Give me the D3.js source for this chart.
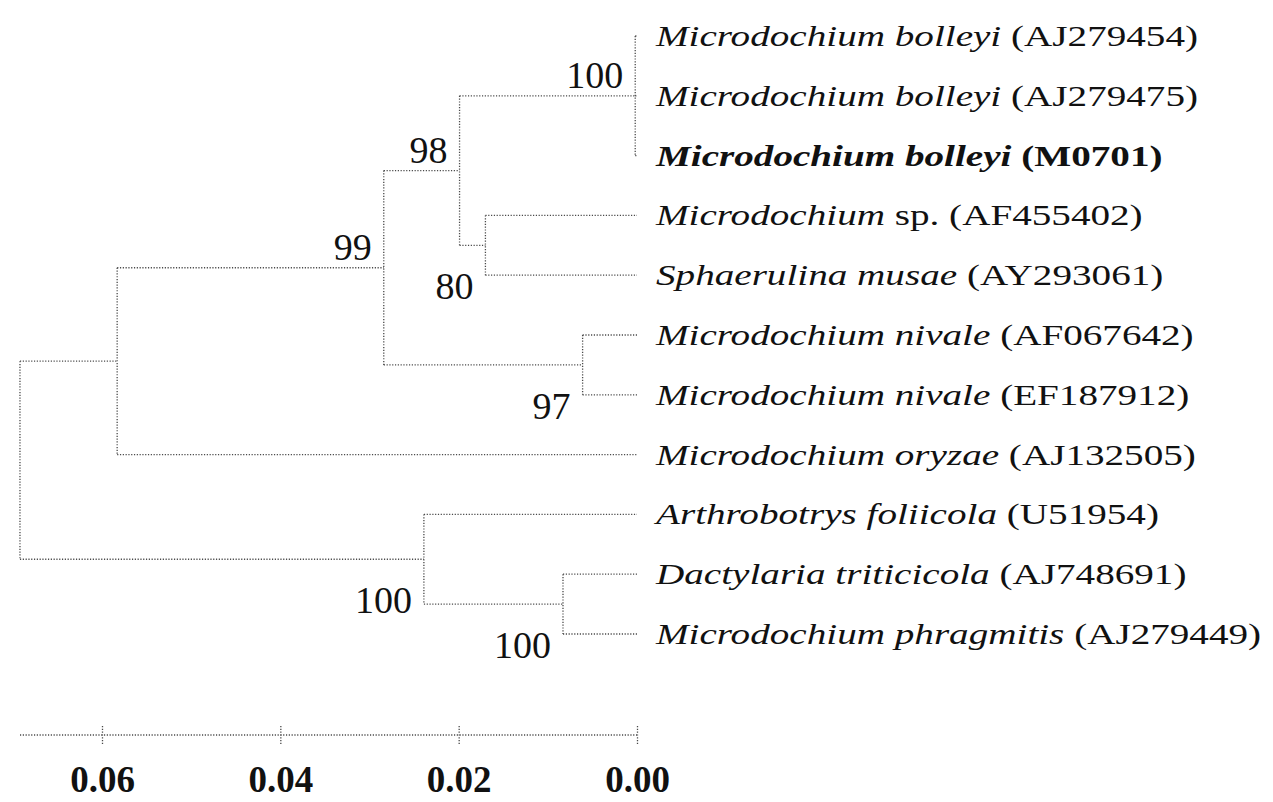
<!DOCTYPE html>
<html>
<head>
<meta charset="utf-8">
<script src="https://cdn.jsdelivr.net/npm/d3@7"></script>
<style>
  html, body { margin: 0; padding: 0; background: #fff; }
  svg { display: block; }
</style>
</head>
<body>
<svg id="chart" width="1273" height="802"></svg>
<script>
// ---------------- data ----------------
const leafIds = ["L1","L2","L3","L4","L5","L6","L7","L8","L9","L10","L11"];
const leafItalic = [
  "Microdochium bolleyi", "Microdochium bolleyi", "Microdochium bolleyi",
  "Microdochium", "Sphaerulina musae", "Microdochium nivale", "Microdochium nivale",
  "Microdochium oryzae", "Arthrobotrys foliicola", "Dactylaria triticicola",
  "Microdochium phragmitis"
];
const leafRoman = [
  "(AJ279454)", "(AJ279475)", "(M0701)", "sp. (AF455402)", "(AY293061)",
  "(AF067642)", "(EF187912)", "(AJ132505)", "(U51954)", "(AJ748691)", "(AJ279449)"
];
const boldLeaves = ["L3"];

const nodeIds = ["root","A","B","C","D","E","F","G","H"];
const nodeHeights = [0.0692, 0.0583, 0.0284, 0.0199, 0.0002, 0.0170, 0.0061, 0.0239, 0.0083];
const nodeChildren = [
  ["A","G"], ["B","L8"], ["C","F"], ["D","E"], ["L1","L2","L3"],
  ["L4","L5"], ["L6","L7"], ["L9","H"], ["L10","L11"]
];
const bootstrap = [null, null, 99, 98, 100, 80, 97, 100, 100];

const scaleTicks = [0.06, 0.04, 0.02, 0.00];

// ---------------- layout ----------------
const svg = d3.select("#chart");
const x = d3.scaleLinear().domain([0, 0.06]).range([637, 102]);
const y = d3.scalePoint().domain(leafIds).range([36, 634]);

const info = {};
leafIds.forEach(id => { info[id] = { id, height: 0, y: y(id), leaf: true }; });
nodeIds.forEach((id, i) => { info[id] = { id, height: nodeHeights[i], children: nodeChildren[i], boot: bootstrap[i], leaf: false }; });
function posY(id) {
  const n = info[id];
  if (n.leaf) return n.y;
  const ys = n.children.map(posY);
  n.y = (d3.min(ys) + d3.max(ys)) / 2;
  n.minY = d3.min(ys); n.maxY = d3.max(ys);
  return n.y;
}
posY("root");

const lineColor = "#4a4a4a";
const dash = "1.2 1.6";
const g = svg.append("g")
  .attr("fill", "none")
  .attr("stroke", lineColor)
  .attr("stroke-width", 1.3)
  .attr("stroke-dasharray", dash);

const internals = nodeIds.map(id => info[id]);
// vertical connectors
g.selectAll("line.v").data(internals).join("line")
  .attr("class", "v")
  .attr("x1", d => x(d.height)).attr("x2", d => x(d.height))
  .attr("y1", d => d.minY).attr("y2", d => d.maxY);
// horizontal branches
const edges = [];
internals.forEach(p => p.children.forEach(c => edges.push({ p, c: info[c] })));
g.selectAll("line.h").data(edges).join("line")
  .attr("class", "h")
  .attr("x1", d => x(d.p.height)).attr("x2", d => x(d.c.height))
  .attr("y1", d => d.c.y).attr("y2", d => d.c.y);

// leaf labels
const labels = svg.append("g")
  .attr("font-family", "'Liberation Serif', 'Times New Roman', serif")
  .attr("font-size", 29)
  .attr("fill", "#111");
const lt = labels.selectAll("text").data(leafIds).join("text")
  .attr("transform", d => `translate(656,${y(d) + 10}) scale(1.35,1)`)
  .attr("font-weight", d => boldLeaves.includes(d) ? "bold" : "normal");
lt.append("tspan").attr("font-style", "italic").text((d, i) => leafItalic[i]);
lt.append("tspan").text((d, i) => " " + leafRoman[i]);

// bootstrap values
const below = new Set(["E","F","G","H"]);
svg.append("g")
  .attr("font-family", "'Liberation Serif', 'Times New Roman', serif")
  .attr("font-size", 38)
  .attr("fill", "#111")
  .attr("text-anchor", "end")
  .selectAll("text").data(internals.filter(d => d.boot != null)).join("text")
  .attr("x", d => x(d.height) - 12)
  .attr("y", d => below.has(d.id) ? d.y + 54 : d.y - 8)
  .text(d => d.boot);

// scale axis
const axisY = 735;
const axis = d3.axisBottom(x)
  .tickValues(scaleTicks)
  .tickFormat(d3.format(".2f"))
  .tickSize(8)
  .tickPadding(0);
const ag = svg.append("g").attr("transform", `translate(0,${axisY})`).call(axis);
ag.select(".domain").remove();
ag.insert("line", ":first-child")
  .attr("x1", x(nodeHeights[0])).attr("x2", x(0))
  .attr("y1", 0).attr("y2", 0)
  .attr("stroke", lineColor).attr("stroke-width", 1.3).attr("stroke-dasharray", dash);
ag.selectAll(".tick line")
  .attr("y1", -9).attr("y2", 9)
  .attr("stroke", lineColor).attr("stroke-width", 1.3).attr("stroke-dasharray", dash);
ag.selectAll(".tick text")
  .attr("y", 57)
  .attr("dy", 0)
  .attr("font-family", "'Liberation Serif', 'Times New Roman', serif")
  .attr("font-size", 37)
  .attr("font-weight", "bold")
  .attr("fill", "#111");
</script>
</body>
</html>
